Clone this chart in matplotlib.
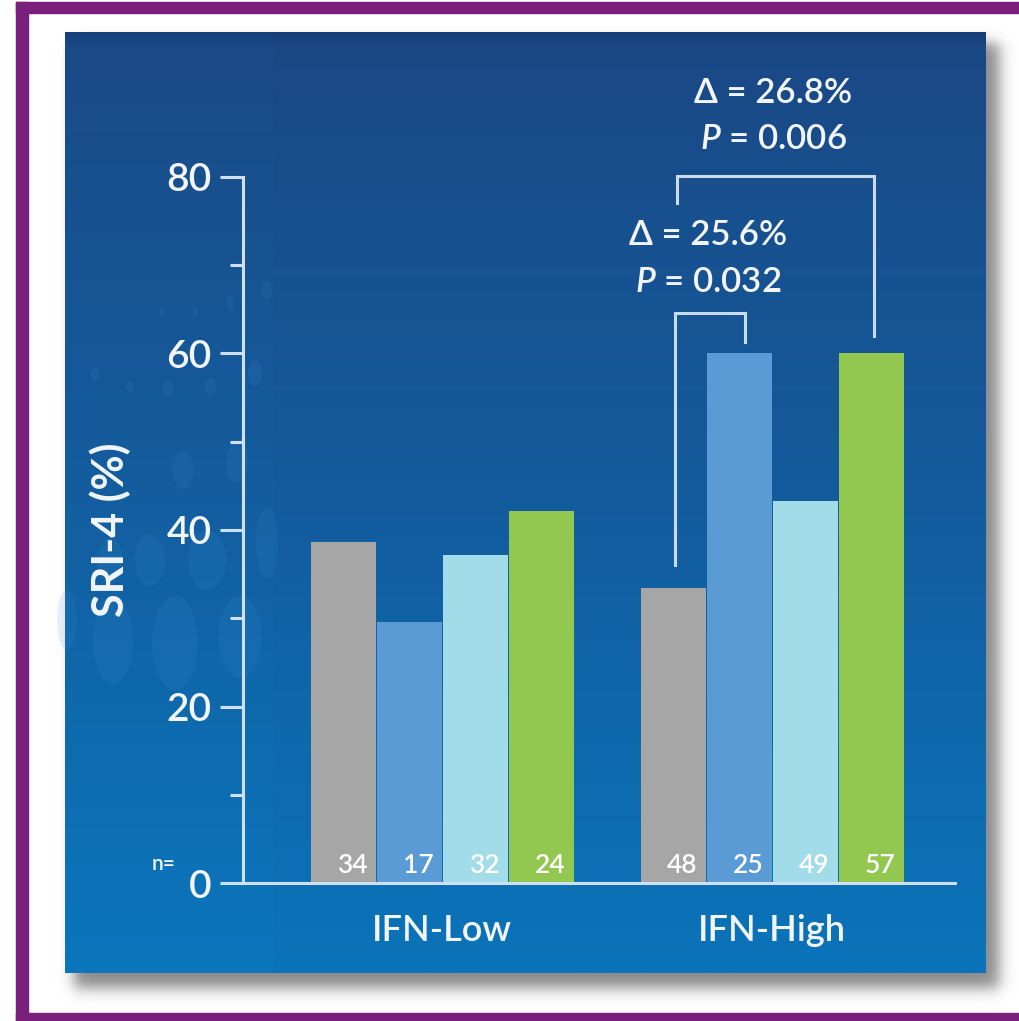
import numpy as np
import matplotlib
matplotlib.use('Agg')
import matplotlib.pyplot as plt
from matplotlib.patches import Rectangle, Ellipse

plt.rcParams['font.family'] = ['Lato', 'DejaVu Sans']
plt.rcParams['font.weight'] = 'semibold'
plt.rcParams['mathtext.fontset'] = 'custom'
plt.rcParams['mathtext.it'] = 'Lato:italic:semibold'
plt.rcParams['mathtext.rm'] = 'Lato:semibold'

# SRI-4 responders (%) by interferon signature group
groups = ['IFN-Low', 'IFN-High']
arms = ['Placebo', 'Arm 2', 'Arm 3', 'Arm 4']
arm_colors = ['#a6a6a6', '#5b9bd5', '#a3dce9', '#93c850']
sri4_low = [38.6, 29.6, 37.2, 42.1]
sri4_high = [33.4, 60.0, 43.3, 60.0]
n_low = [34, 17, 32, 24]
n_high = [48, 25, 49, 57]
yticks = [0, 20, 40, 60, 80]

W, H = 1020, 1021
fig = plt.figure(figsize=(W / 100, H / 100), dpi=100)
fig.patch.set_facecolor('white')

# ---- slide background drawn in pixel coordinates ----
bg = fig.add_axes([0, 0, 1, 1], zorder=0)
bg.set_xlim(0, W)
bg.set_ylim(H, 0)
bg.axis('off')

# soft drop shadow under the blue panel
xx, yy = np.meshgrid(np.arange(W) + 0.5, np.arange(H) + 0.5)
sig = lambda v: 1 / (1 + np.exp(-v))
sh = sig((xx - 74) / 4) * sig((999 - xx) / 4.5) * sig((yy - 44) / 4) * sig((988 - yy) / 4.5)
shadow = np.zeros((H, W, 4))
shadow[..., :3] = 0.22
shadow[..., 3] = 0.6 * sh
bg.imshow(shadow, extent=(0, W, H, 0), zorder=1, interpolation='bilinear')

# vertical blue gradient
px0, px1, py0, py1 = 65.5, 986, 33, 973
stops_y = np.array([0.0, 0.015, 0.2, 0.5, 0.8, 1.0])
stops_c = np.array([
    [0x16, 0x3e, 0x78],
    [0x1a, 0x48, 0x85],
    [0x18, 0x50, 0x8f],
    [0x13, 0x5c, 0x9e],
    [0x0e, 0x6b, 0xb0],
    [0x0b, 0x74, 0xba],
]) / 255
ph, pw = 400, 460
t = np.linspace(0, 1, ph)
col = np.stack([np.interp(t, stops_y, stops_c[:, k]) for k in range(3)], axis=1)
panel = np.repeat(col[:, None, :], pw, axis=1)
seam = int((275 - px0) / (px1 - px0) * pw)
panel[:, :seam, :] = np.clip(panel[:, :seam, :] * [1.0, 1.02, 1.01], 0, 1)
bg.imshow(panel, extent=(px0, px1, py1, py0), aspect='auto', zorder=2,
          interpolation='bilinear')

# faint bubbles on the left side of the panel
bubbles = [
    (95, 375, 8, 14), (130, 387, 7, 12), (168, 388, 10, 16), (210, 387, 12, 18),
    (255, 373, 14, 26), (162, 312, 5, 8), (195, 312, 5, 8), (230, 303, 8, 14),
    (267, 290, 10, 18), (183, 470, 20, 38), (237, 463, 22, 40), (110, 560, 24, 46),
    (150, 560, 30, 52), (207, 560, 38, 60), (267, 543, 22, 70), (67, 620, 20, 60),
    (113, 640, 40, 88), (175, 643, 46, 94), (240, 637, 44, 82),
]
for bx, by, bw, bh in bubbles:
    bg.add_patch(Ellipse((bx, by), bw, bh, facecolor='#3f92d2', alpha=0.13,
                         edgecolor='none', zorder=3))

# purple slide frame
frame = '#7b1f7c'
bg.add_patch(Rectangle((16, 2), W - 16, 11, color=frame, zorder=4))
bg.add_patch(Rectangle((16, 2), 12, H - 2, color=frame, zorder=4))
bg.add_patch(Rectangle((16, 1013), W - 16, 8, color=frame, zorder=4))

# ---- bar chart ----
ax = fig.add_axes([243 / W, 1 - 883 / H, (955 - 243) / W, (883 - 177) / H], zorder=1)
ax.set_facecolor('none')

axis_col = '#cfe1f0'
text_col = '#f2f6fa'
step = 5
offsets = np.array([-1.5, -0.5, 0.5, 1.5])
centers = [g * step + offsets for g in range(len(groups))]

for g, (vals, ns) in enumerate([(sri4_low, n_low), (sri4_high, n_high)]):
    ax.bar(centers[g], vals, width=0.98, color=arm_colors, zorder=2)
    for xc, n in zip(centers[g], ns):
        ax.text(xc + 0.14, 1.1, str(n), color='white', fontsize=19,
                ha='center', va='baseline', zorder=3)

ax.text(-4.05, 1.5, 'n=', color=text_col, fontsize=15, ha='right',
        va='baseline', clip_on=False)

ax.set_xlim(-3.02, 7.77)
ax.set_ylim(0, 80)
ax.set_yticks(yticks)
ax.set_yticks([10, 30, 50, 70], minor=True)
ax.set_xticks([0, step])
ax.set_xticklabels(groups)

for side in ['top', 'right']:
    ax.spines[side].set_visible(False)
for side in ['left', 'bottom']:
    ax.spines[side].set_color(axis_col)
    ax.spines[side].set_linewidth(2.2)
    ax.spines[side].set_zorder(4)

ax.tick_params(axis='y', which='major', direction='out', length=16.5, width=2.2,
               color=axis_col, labelcolor=text_col, labelsize=28, pad=6)
ax.tick_params(axis='y', which='minor', direction='out', length=9.5, width=2.2,
               color=axis_col)
ax.tick_params(axis='x', length=0, labelcolor=text_col, labelsize=26, pad=22)

fig.text(110 / W, 1 - 530 / H, 'SRI-4 (%)', rotation=90, color=text_col,
         fontsize=31, fontweight='bold', ha='center', va='center')

# significance brackets (IFN-High group)
br_col = '#c9dcee'
hi = centers[1]


def bracket(x0, x1, top, y0, y1):
    ax.plot([x0, x0, x1, x1], [y0, top, top, y1], color=br_col, lw=2.2,
            clip_on=False, zorder=3, solid_joinstyle='miter')


bracket(hi[0] + 0.03, hi[1] + 0.08, 64.6, 36.0, 61.3)
bracket(hi[0] + 0.05, hi[3] + 0.05, 80.1, 77.1, 62.0)

ax.text(4.03, 72.3, '\u0394 = 25.6%', color=text_col, fontsize=25,
        ha='center', va='baseline', clip_on=False)
ax.text(4.03, 67.0, r'$\mathit{P}$ = 0.032', color=text_col, fontsize=25,
        ha='center', va='baseline', clip_on=False)
ax.text(5.02, 88.4, '\u0394 = 26.8%', color=text_col, fontsize=25,
        ha='center', va='baseline', clip_on=False)
ax.text(5.02, 83.2, r'$\mathit{P}$ = 0.006', color=text_col, fontsize=25,
        ha='center', va='baseline', clip_on=False)

fig.savefig('out.png', dpi=100, facecolor='white')
